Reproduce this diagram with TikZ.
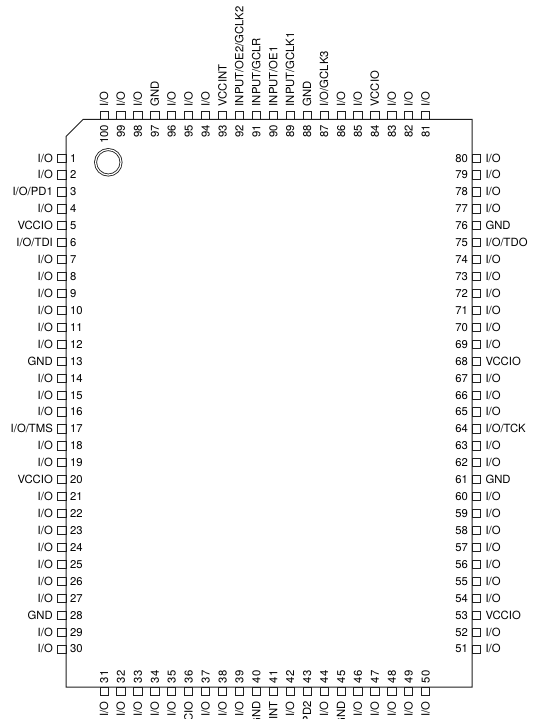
\documentclass[tikz,border=0pt]{standalone}
\usepackage{fontspec}
\setmainfont{TeX Gyre Heros}
\definecolor{ink}{gray}{0.12}
\tikzset{
  x=1bp,y=-1bp,
  chip/.style={draw=ink,line width=1bp},
  pinbox/.style={draw=ink,line width=0.75bp,minimum width=8.2bp,minimum height=8.2bp,inner sep=0pt,outer sep=0pt},
  pintext/.style={font=\fontsize{11.3bp}{12bp}\selectfont,text=black,inner sep=0pt,outer sep=0pt,text height=8bp,text depth=0pt},
}
\begin{document}
\begin{tikzpicture}
\useasboundingbox (0,0) rectangle (540,719);
\clip (0,0) rectangle (540,719);
\draw[chip] (66,136.5) -- (83,119.5) -- (472,119.5) -- (472,687) -- (66,687) -- cycle;
\node[circle,draw=ink,line width=0.85bp,minimum size=25.5bp,inner sep=0pt,double=white,double distance=1.2bp] (mark) at (108.3,162.3) {};
% left side
\foreach \n/\t in {1/{I/O},2/{I/O},3/{I/O/PD1},4/{I/O},5/{VCCIO},6/{I/O/TDI},7/{I/O},8/{I/O},9/{I/O},10/{I/O},11/{I/O},12/{I/O},13/{GND},14/{I/O},15/{I/O},16/{I/O},17/{I/O/TMS},18/{I/O},19/{I/O},20/{VCCIO},21/{I/O},22/{I/O},23/{I/O},24/{I/O},25/{I/O},26/{I/O},27/{I/O},28/{GND},29/{I/O},30/{I/O}}{
  \pgfmathsetmacro{\py}{158+(\n-1)*16.93}
  \node[pinbox] (p\n) at (61.9,\py) {};
  \node[pintext,anchor=east] (l\n) at (52.8,\py) {\t};
  \node[pintext,anchor=west] (n\n) at (70,\py) {\n};
}
% right side
\foreach \n/\t in {80/{I/O},79/{I/O},78/{I/O},77/{I/O},76/{GND},75/{I/O/TDO},74/{I/O},73/{I/O},72/{I/O},71/{I/O},70/{I/O},69/{I/O},68/{VCCIO},67/{I/O},66/{I/O},65/{I/O},64/{I/O/TCK},63/{I/O},62/{I/O},61/{GND},60/{I/O},59/{I/O},58/{I/O},57/{I/O},56/{I/O},55/{I/O},54/{I/O},53/{VCCIO},52/{I/O},51/{I/O}}{
  \pgfmathsetmacro{\py}{158+(80-\n)*16.93}
  \node[pinbox] (p\n) at (476.1,\py) {};
  \node[pintext,anchor=east] (n\n) at (468,\py) {\n};
  \node[pintext,anchor=west] (l\n) at (485.5,\py) {\t};
}
% top side
\foreach \n/\t in {100/{I/O},99/{I/O},98/{I/O},97/{GND},96/{I/O},95/{I/O},94/{I/O},93/{VCCINT},92/{INPUT/OE2/GCLK2},91/{INPUT/GCLR},90/{INPUT/OE1},89/{INPUT/GCLK1},88/{GND},87/{I/O/GCLK3},86/{I/O},85/{I/O},84/{VCCIO},83/{I/O},82/{I/O},81/{I/O}}{
  \pgfmathsetmacro{\px}{104+(100-\n)*16.93}
  \node[pinbox] (p\n) at (\px,115.4) {};
  \node[pintext,anchor=west,rotate=90] (l\n) at (\px,106.3) {\t};
  \node[pintext,anchor=east,rotate=90] (n\n) at (\px,125) {\n};
}
% bottom side
\foreach \n/\t in {31/{I/O},32/{I/O},33/{I/O},34/{I/O},35/{I/O},36/{VCCIO},37/{I/O},38/{I/O},39/{I/O},40/{GND},41/{VCCINT},42/{I/O},43/{I/O/PD2},44/{I/O},45/{GND},46/{I/O},47/{I/O},48/{I/O},49/{I/O},50/{I/O}}{
  \pgfmathsetmacro{\px}{104+(\n-31)*16.93}
  \node[pinbox] (p\n) at (\px,691.1) {};
  \node[pintext,anchor=east,rotate=90] (l\n) at (\px,701.5) {\t};
  \node[pintext,anchor=west,rotate=90] (n\n) at (\px,683) {\n};
}
\end{tikzpicture}
\end{document}
